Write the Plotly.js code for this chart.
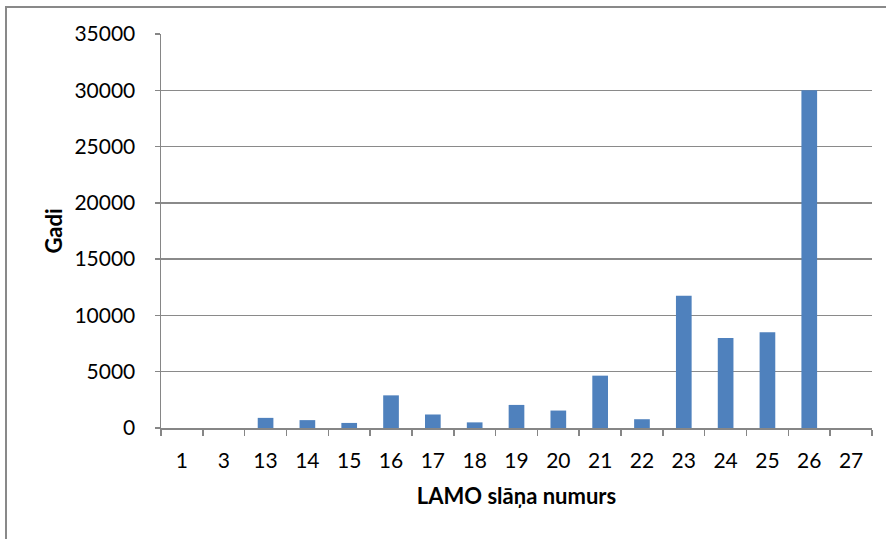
<!DOCTYPE html>
<html>
<head>
<meta charset="utf-8">
<script src="https://cdn.plot.ly/plotly-3.0.1.min.js"></script>
<style>
html,body{margin:0;padding:0;background:#fff;}
#chart{width:886px;height:539px;}
</style>
</head>
<body>
<div id="chart"></div>
<script>
// Data
const categories = ['1','3','13','14','15','16','17','18','19','20','21','22','23','24','25','26','27'];
const years = [0, 0, 900, 700, 450, 2900, 1200, 500, 2050, 1550, 4650, 780, 11750, 8000, 8500, 30000, 0];
const yTickVals = [0, 5000, 10000, 15000, 20000, 25000, 30000, 35000];
const xTitle = 'LAMO slāņa numurs';
const yTitle = 'Gadi';

const W = 886, H = 539;
const L = 161, R = 14, T = 34, B = 111;
const pw = W - L - R, ph = H - T - B;
const px = v => (v - L) / pw;
const py = v => (H - B - v) / ph;

const font = 'Lato, "Open Sans", "Liberation Sans", sans-serif';

Plotly.newPlot('chart', [{
  type: 'bar',
  x: categories,
  y: years,
  marker: {color: '#4F81BD', line: {width: 0}},
  hoverinfo: 'x+y'
}], {
  width: W, height: H,
  margin: {l: L, r: R, t: T, b: B, pad: 0},
  paper_bgcolor: '#ffffff',
  plot_bgcolor: '#ffffff',
  bargap: 0.625,
  showlegend: false,
  font: {family: font, size: 21, color: '#000000'},
  xaxis: {
    type: 'category',
    tickson: 'boundaries',
    ticks: 'outside',
    ticklen: 6,
    tickwidth: 1.5,
    tickcolor: '#868686',
    showline: true,
    linecolor: '#868686',
    linewidth: 1.5,
    showgrid: false,
    zeroline: false,
    ticklabelstandoff: 13,
    tickfont: {family: font, size: 21, color: '#000'},
    title: {text: xTitle, font: {family: font, size: 22, color: '#000', weight: 'bold'}, standoff: 18}
  },
  yaxis: {
    range: [0, 35000],
    tickvals: yTickVals,
    ticktext: yTickVals.map(String),
    ticks: 'outside',
    ticklen: 5,
    tickwidth: 1.5,
    tickcolor: '#868686',
    showline: true,
    linecolor: '#868686',
    linewidth: 1.5,
    showgrid: true,
    gridcolor: '#8a8a8a',
    gridwidth: 1.5,
    zeroline: false,
    ticklabelstandoff: 15,
    tickfont: {family: font, size: 21, color: '#000'},
    title: {text: yTitle, font: {family: font, size: 22, color: '#000', weight: 'bold'}, standoff: 5}
  },
  shapes: [{
    type: 'rect', xref: 'paper', yref: 'paper',
    x0: px(6), x1: px(905), y0: py(560), y1: py(7),
    line: {color: '#898989', width: 2},
    fillcolor: 'rgba(0,0,0,0)', layer: 'below'
  }]
}, {displayModeBar: false, staticPlot: true});
</script>
</body>
</html>
